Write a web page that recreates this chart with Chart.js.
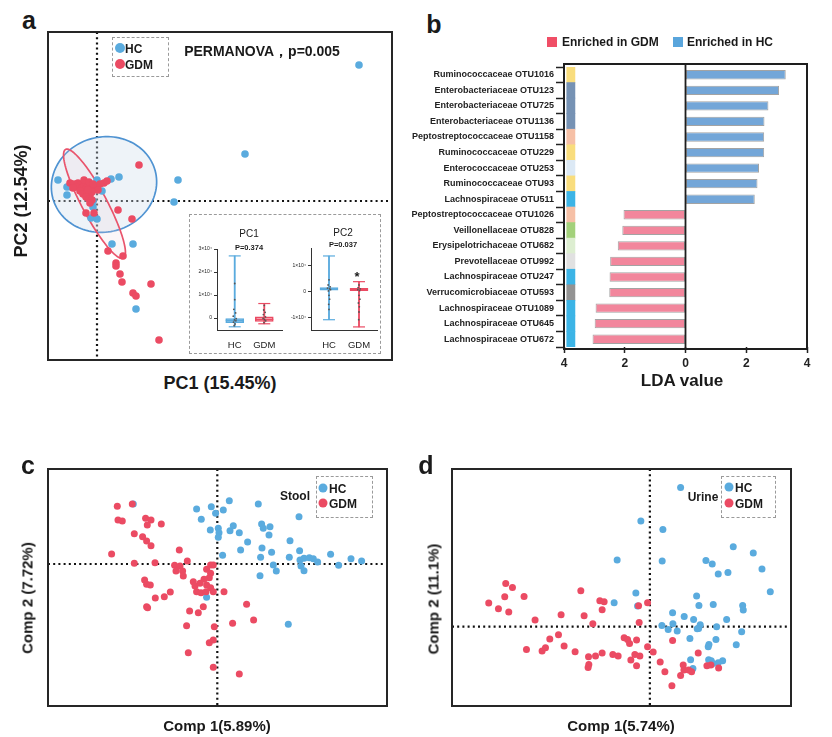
<!DOCTYPE html>
<html lang="en">
<head>
<meta charset="UTF-8">
<title>GDM microbiome figure</title>
<script src="https://cdn.jsdelivr.net/npm/chart.js@4.4.1/dist/chart.umd.min.js"></script>
<style>
    body { margin: 0; background: #fff; font-family: "Liberation Sans", Arial, sans-serif; color: #1a1a1a; }
    #fig { position: relative; width: 832px; height: 737px; overflow: hidden; }
    canvas { position: absolute; }
    .t { position: absolute; white-space: nowrap; line-height: 1; transform: translate(-50%, -50%); }
    .l { position: absolute; white-space: nowrap; line-height: 1; transform: translateY(-50%); }
    .b { font-weight: bold; }
    .rot { transform: translate(-50%, -50%) rotate(-90deg); }
    .box { position: absolute; border: 1px dashed #9a9a9a; box-sizing: border-box; }
    .dot { position: absolute; border-radius: 50%; transform: translate(-50%, -50%); }
    .sq { position: absolute; }
    .letter { font-size: 25px; font-weight: bold; }
</style>
</head>
<body>
<div id="fig">
    <!-- panel a -->
    <div class="t letter" style="left:29px;top:20px">a</div>
    <canvas id="pcoa" width="400" height="372" style="left:0;top:0"></canvas>
    <div class="t b" style="left:262px;top:51px;font-size:14px">PERMANOVA，p=0.005</div>
    <div class="box" style="left:112px;top:37px;width:57px;height:40px"></div>
    <div class="dot" style="left:120px;top:48px;width:10px;height:10px;background:#5aabde"></div>
    <div class="l b" style="left:125px;top:49px;font-size:12px">HC</div>
    <div class="dot" style="left:120px;top:64px;width:10px;height:10px;background:#eb4b63"></div>
    <div class="l b" style="left:125px;top:65px;font-size:12px">GDM</div>
    <div class="t b" style="left:220px;top:383px;font-size:18px">PC1 (15.45%)</div>
    <div class="t b rot" style="left:21px;top:201px;font-size:18px">PC2 (12.54%)</div>
    <div class="box" style="left:189px;top:214px;width:192px;height:140px;background:#fff"></div>
    <canvas id="box1" width="96" height="108" style="left:189px;top:244px"></canvas>
    <canvas id="box2" width="103" height="109" style="left:277px;top:243px"></canvas>
    <div class="t" style="left:249px;top:234px;font-size:10px">PC1</div>
    <div class="t b" style="left:249px;top:248px;font-size:7.5px">P=0.374</div>
    <div class="t" style="left:343px;top:233px;font-size:10px">PC2</div>
    <div class="t b" style="left:343px;top:245px;font-size:7.5px">P=0.037</div>
    <div class="t b" style="left:357px;top:276px;font-size:13px">*</div>

    <!-- panel b -->
    <div class="t letter" style="left:434px;top:24px">b</div>
    <div class="sq" style="left:547px;top:37px;width:10px;height:10px;background:#f04e66"></div>
    <div class="l b" style="left:562px;top:42px;font-size:12px">Enriched in GDM</div>
    <div class="sq" style="left:673px;top:37px;width:10px;height:10px;background:#59a5dc"></div>
    <div class="l b" style="left:687px;top:42px;font-size:12px">Enriched in HC</div>
    <canvas id="lda" width="415" height="330" style="left:405px;top:56px"></canvas>
    <div class="t b" style="left:682px;top:380px;font-size:17px">LDA value</div>

    <!-- panel c -->
    <div class="t letter" style="left:28px;top:465px">c</div>
    <canvas id="stool" width="400" height="250" style="left:0;top:460px"></canvas>
    <div class="t b" style="left:295px;top:496px;font-size:12px">Stool</div>
    <div class="box" style="left:316px;top:476px;width:57px;height:42px"></div>
    <div class="dot" style="left:323px;top:488px;width:9px;height:9px;background:#5aabde"></div>
    <div class="l b" style="left:329px;top:489px;font-size:12px">HC</div>
    <div class="dot" style="left:323px;top:503px;width:9px;height:9px;background:#eb4b63"></div>
    <div class="l b" style="left:329px;top:504px;font-size:12px">GDM</div>
    <div class="t b" style="left:217px;top:725px;font-size:15px">Comp 1(5.89%)</div>
    <div class="t b rot" style="left:27px;top:598px;font-size:15px">Comp 2 (7.72%)</div>

    <!-- panel d -->
    <div class="t letter" style="left:426px;top:465px">d</div>
    <canvas id="urine" width="400" height="250" style="left:420px;top:460px"></canvas>
    <div class="t b" style="left:703px;top:497px;font-size:12px">Urine</div>
    <div class="box" style="left:721px;top:476px;width:55px;height:42px"></div>
    <div class="dot" style="left:729px;top:487px;width:9px;height:9px;background:#5aabde"></div>
    <div class="l b" style="left:735px;top:488px;font-size:12px">HC</div>
    <div class="dot" style="left:729px;top:503px;width:9px;height:9px;background:#eb4b63"></div>
    <div class="l b" style="left:735px;top:504px;font-size:12px">GDM</div>
    <div class="t b" style="left:621px;top:725px;font-size:15px">Comp 1(5.74%)</div>
    <div class="t b rot" style="left:433px;top:599px;font-size:15px">Comp 2 (11.1%)</div>
</div>

<script>
    const FONT = '"Liberation Sans", Arial, sans-serif';
    const HC_COLOR = '#5aabde';
    const GDM_COLOR = '#eb4b63';

    // ---- panel a: PCoA (PC1, PC2) ----
    const pcoaHC = [[26.2, 13.6], [14.8, 4.7], [8.1, 2.1], [7.7, -0.1], [3.9, -10.8], [3.6, -4.3], [1.5, -4.3],
        [-3.9, 2.1], [-3.0, 0.6], [-3.0, 1.4], [2.2, 2.4], [1.4, 2.2], [0.0, 2.1], [0.5, 1.0], [-0.4, 0.0],
        [-0.4, -0.6], [-0.6, -1.7], [0.0, -1.8], [-2.6, 1.4]];
    const pcoaGDM = [[4.2, 3.6], [-1.1, -1.2], [-0.3, -1.2], [2.1, -0.9], [3.5, -1.8], [1.1, -5.0], [2.6, -5.5],
        [1.9, -6.2], [1.9, -6.5], [2.3, -7.3], [2.5, -8.1], [5.4, -8.3], [3.6, -9.2], [3.9, -9.5], [6.2, -13.9],
        [-2.7, 1.8], [-2.3, 1.7], [-1.9, 1.8], [-1.7, 1.6], [-2.1, 1.4], [-1.5, 1.3], [-1.3, 1.5], [-1.1, 1.8],
        [-0.9, 1.5], [-1.2, 1.1], [-1.7, 1.0], [-1.4, 0.7], [-1.0, 0.8], [-0.7, 0.6], [-1.1, 0.4], [-0.8, 0.2],
        [-0.5, 0.1], [-0.7, -0.2], [-0.3, 1.3], [-0.1, 1.5], [0.3, 1.7], [0.7, 1.8], [1.0, 2.0], [0.1, 1.1],
        [-0.5, 0.9], [-0.9, 1.1], [-1.3, 2.1], [-0.8, 1.9], [-0.4, 1.7], [-2.4, 1.3]];
    // confidence ellipses: centre x, centre y, radius x, radius y, rotation (deg)
    const hcEllipse = [0.7, 1.65, 5.3, 4.75, 15];
    const gdmEllipse = [-0.25, -0.28, 6.16, 1.25, -62];

    // inset boxplots: min, q1, median, q3, max
    const pc1HC = [-3800, -2000, -1000, 0, 27000];
    const pc1GDM = [-2500, -1500, -600, 500, 6300];
    const pc2HC = [-11000, 500, 1000, 1500, 13800];
    const pc2GDM = [-13800, 300, 700, 1200, 3800];
    const pc1Ticks = [0, 10000, 20000, 30000];
    const pc2Ticks = [-10000, 0, 10000];
    const groupTicks = [1, 2];
    const groupNames = ['HC', 'GDM'];
    const pc1HCDots = [[1.0, 15000], [1.0, 8000], [0.97, 3800], [1.03, 2200], [0.95, 800], [1.05, -300], [0.99, -800], [1.04, -1200], [0.96, -1800], [1.01, -2600], [0.98, -3300]];
    const pc1GDMDots = [[2.0, 5500], [1.98, 3500], [2.03, 2500], [1.97, 1500], [2.04, 500], [1.96, -200], [2.01, -700], [2.05, -1200], [1.99, -2000]];
    const pc2HCDots = [[1.0, 4500], [0.97, 2500], [1.04, 1800], [0.95, 1300], [1.02, 1000], [1.05, 700], [0.98, 200], [1.0, -1500], [1.02, -3000], [0.99, -5000], [1.0, -7000]];
    const pc2GDMDots = [[2.0, 2500], [1.97, 1500], [2.04, 1000], [1.96, 700], [2.02, 300], [2.0, -1500], [2.03, -3000], [1.98, -4500], [2.01, -6000], [2.0, -8000], [1.99, -11000]];

    // ---- panel b: LEfSe LDA ----
    const otuLabels = ['Ruminococcaceae OTU1016', 'Enterobacteriaceae OTU123', 'Enterobacteriaceae OTU725',
        'Enterobacteriaceae OTU1136', 'Peptostreptococcaceae OTU1158', 'Ruminococcaceae OTU229',
        'Enterococcaceae OTU253', 'Ruminococcaceae OTU93', 'Lachnospiraceae OTU511',
        'Peptostreptococcaceae OTU1026', 'Veillonellaceae OTU828', 'Erysipelotrichaceae OTU682',
        'Prevotellaceae OTU992', 'Lachnospiraceae OTU247', 'Verrucomicrobiaceae OTU593',
        'Lachnospiraceae OTU1089', 'Lachnospiraceae OTU645', 'Lachnospiraceae OTU672'];
    const ldaValues = [3.30, 3.08, 2.73, 2.60, 2.59, 2.59, 2.42, 2.37, 2.28,
        -2.04, -2.08, -2.23, -2.48, -2.50, -2.51, -2.96, -2.99, -3.06];
    const familyColors = ['#f9dd7d', '#7692b4', '#7692b4', '#7692b4', '#f6c0a6', '#f9dd7d', '#dce9f5', '#f9dd7d', '#3cb4e6',
        '#f6c0a6', '#a3d17b', '#ddeed1', '#e1e1e1', '#3cb4e6', '#939393', '#3cb4e6', '#3cb4e6', '#3cb4e6'];
    const STRIP = [-3.91, -3.64];

    // ---- panel c: stool PLS-DA ----
    const stoolHC = [[-8.4, 6.0], [-2.07, 5.5], [-0.6, 5.73], [-0.17, 5.07], [0.6, 5.4], [1.2, 6.33], [4.1, 6.0],
        [-1.6, 4.47], [-0.7, 3.4], [0.1, 3.57], [0.17, 3.13], [0.1, 2.67], [1.27, 3.33], [1.6, 3.83], [2.2, 3.13],
        [3.03, 2.2], [2.33, 1.4], [0.53, 0.87], [4.43, 4.0], [4.6, 3.57], [5.27, 3.73], [5.17, 2.9], [7.27, 2.33],
        [8.17, 4.73], [4.47, 1.6], [5.43, 1.17], [4.33, 0.67], [5.6, -0.1], [5.9, -0.7], [4.27, -1.17], [7.2, 0.67],
        [8.23, 1.33], [8.27, 0.4], [8.67, 0.57], [9.2, 0.63], [9.6, 0.53], [10.03, 0.2], [8.37, -0.2], [8.67, -0.67],
        [11.33, 0.97], [12.13, -0.13], [13.37, 0.53], [14.43, 0.3], [-1.07, -3.33], [7.1, -6.03]];
    const stoolGDM = [[-10.0, 5.77], [-8.5, 6.0], [-9.93, 4.4], [-9.5, 4.3], [-7.17, 4.57], [-6.63, 4.4], [-7.0, 3.9],
        [-5.6, 4.0], [-8.3, 3.03], [-7.47, 2.73], [-7.07, 2.3], [-6.63, 1.83], [-10.57, 1.0], [-8.3, 0.07],
        [-6.23, 0.13], [-3.8, 1.4], [-3.0, 0.3], [-4.27, -0.13], [-3.73, -0.2], [-4.13, -0.7], [-3.47, -0.7],
        [-3.4, -1.2], [-1.07, -0.53], [-0.67, -0.1], [-0.4, -0.1], [-0.67, -0.93], [-0.8, -1.37], [-1.33, -1.53],
        [-2.4, -1.77], [-2.23, -2.2], [-1.73, -1.93], [-1.07, -2.1], [-0.67, -2.37], [-2.07, -2.77], [-1.63, -2.87],
        [-1.13, -2.77], [-0.4, -2.77], [0.67, -2.77], [-7.27, -1.6], [-7.07, -2.03], [-6.7, -2.1], [-6.2, -3.4],
        [-5.3, -3.27], [-4.7, -2.8], [-7.07, -4.27], [-6.97, -4.37], [-2.77, -4.7], [-1.9, -4.87], [-1.4, -4.27],
        [2.93, -4.03], [1.53, -5.93], [3.63, -5.6], [-3.07, -6.17], [-0.3, -6.27], [-0.8, -7.87], [-0.4, -7.6],
        [-2.9, -8.87], [-0.4, -10.33], [2.2, -11.0]];

    // ---- panel d: urine PLS-DA ----
    const urineHC = [[3.07, 13.93], [-0.9, 10.57], [1.3, 9.73], [-3.27, 6.67], [1.23, 6.57], [5.6, 6.63], [6.23, 6.27],
        [6.83, 5.27], [7.8, 5.43], [8.33, 8.0], [10.33, 7.37], [11.2, 5.77], [12.03, 3.5], [-1.4, 3.37], [-3.57, 2.4],
        [-1.23, 2.07], [4.67, 3.07], [4.9, 2.13], [6.33, 2.23], [9.27, 2.13], [9.33, 1.67], [2.27, 1.4], [3.43, 1.03],
        [4.37, 0.73], [5.03, 0.2], [4.87, -0.17], [4.73, -0.2], [7.67, 0.73], [6.67, 0.0], [9.17, -0.5], [1.2, 0.13],
        [2.3, 0.3], [1.83, -0.27], [2.73, -0.43], [4.0, -1.17], [5.9, -1.77], [5.83, -2.0], [6.6, -1.27], [8.63, -1.8],
        [4.07, -3.3], [5.87, -3.3], [6.13, -3.4], [6.83, -3.6], [7.27, -3.4], [4.3, -4.17], [6.3, -3.67]];
    const urineGDM = [[-14.4, 4.33], [-13.73, 3.93], [-16.1, 2.37], [-15.13, 1.8], [-14.5, 3.0], [-14.1, 1.47],
        [-12.57, 3.03], [-11.47, 0.67], [-8.87, 1.2], [-6.9, 3.6], [-5.0, 2.6], [-4.57, 2.5], [-4.77, 1.7],
        [-6.57, 1.1], [-5.7, 0.3], [-1.13, 2.1], [-0.23, 2.4], [-1.07, 0.43], [-9.13, -0.8], [-10.0, -1.23],
        [-12.33, -2.27], [-10.77, -2.43], [-10.43, -2.1], [-8.57, -1.93], [-7.47, -2.5], [-6.13, -3.0],
        [-6.1, -3.77], [-6.17, -4.07], [-5.43, -2.93], [-4.77, -2.63], [-3.7, -2.77], [-3.17, -2.93],
        [-2.57, -1.1], [-2.23, -1.27], [-2.03, -1.67], [-1.33, -1.33], [-1.9, -3.33], [-1.5, -2.77], [-1.0, -2.93],
        [-1.33, -3.9], [-0.23, -2.0], [0.33, -2.53], [1.03, -3.53], [1.5, -4.5], [2.27, -1.37], [3.07, -4.87],
        [2.2, -5.9], [3.33, -3.83], [3.4, -4.33], [3.87, -4.33], [4.17, -4.5], [4.83, -2.63], [5.7, -3.9],
        [6.1, -3.83], [6.87, -4.13]];

    // box around the plot area, optional zero line (panel b)
    const framePlugin = {
        id: 'frame',
        afterDatasetsDraw(chart, args, o) {
            if (!o.show) return;
            const { ctx, chartArea: a } = chart;
            const t = o.top || 0, b = o.bottom || 0;
            ctx.save();
            ctx.strokeStyle = o.color || '#222';
            ctx.lineWidth = o.width || 2;
            ctx.strokeRect(a.left, a.top - t, a.right - a.left, a.bottom - a.top + t + b);
            if (o.zeroX) {
                const px = chart.scales.x.getPixelForValue(0);
                ctx.beginPath();
                ctx.moveTo(px, a.top - t);
                ctx.lineTo(px, a.bottom + b);
                ctx.lineWidth = 1.8;
                ctx.stroke();
            }
            ctx.restore();
        }
    };

    // dotted lines through the origin
    const crossPlugin = {
        id: 'cross',
        beforeDatasetsDraw(chart, args, o) {
            if (!o.show) return;
            const { ctx, chartArea: a, scales: { x, y } } = chart;
            const px = x.getPixelForValue(0), py = y.getPixelForValue(0);
            ctx.save();
            ctx.strokeStyle = '#111';
            ctx.lineWidth = 2.2;
            ctx.setLineDash([2, 3.2]);
            ctx.beginPath();
            ctx.moveTo(px, a.top); ctx.lineTo(px, a.bottom);
            ctx.moveTo(a.left, py); ctx.lineTo(a.right, py);
            ctx.stroke();
            ctx.restore();
        }
    };

    const ellipsePlugin = {
        id: 'ellipses',
        beforeDatasetsDraw(chart, args, o) {
            const { ctx, scales: { x, y } } = chart;
            (o.items || []).forEach(e => {
                const [cx, cy, rx, ry, deg] = e.p;
                const th = deg * Math.PI / 180;
                ctx.save();
                ctx.beginPath();
                for (let i = 0; i <= 120; i++) {
                    const t = i / 120 * 2 * Math.PI;
                    const dx = rx * Math.cos(t), dy = ry * Math.sin(t);
                    const px = x.getPixelForValue(cx + dx * Math.cos(th) - dy * Math.sin(th));
                    const py = y.getPixelForValue(cy + dx * Math.sin(th) + dy * Math.cos(th));
                    if (i) ctx.lineTo(px, py); else ctx.moveTo(px, py);
                }
                ctx.closePath();
                ctx.fillStyle = e.fill;
                ctx.fill();
                ctx.strokeStyle = e.stroke;
                ctx.lineWidth = 1.7;
                ctx.stroke();
                ctx.restore();
            });
        }
    };

    const toXY = arr => arr.map(p => ({ x: p[0], y: p[1] }));

    function scatterPanel(id, hc, gdm, xr, yr, pad, radius, ellipses) {
        return new Chart(document.getElementById(id), {
            type: 'scatter',
            data: {
                datasets: [
                    { data: toXY(hc), backgroundColor: HC_COLOR, borderWidth: 0, pointRadius: radius, order: 2 },
                    { data: toXY(gdm), backgroundColor: GDM_COLOR, borderWidth: 0, pointRadius: radius, order: 1 }
                ]
            },
            options: {
                responsive: false,
                animation: false,
                layout: { padding: pad, autoPadding: false },
                plugins: {
                    legend: { display: false },
                    tooltip: { enabled: false },
                    frame: { show: true, width: 2, color: '#262626' },
                    cross: { show: true },
                    ellipses: { items: ellipses || [] }
                },
                scales: {
                    x: { type: 'linear', min: xr[0], max: xr[1], display: false },
                    y: { type: 'linear', min: yr[0], max: yr[1], display: false }
                }
            },
            plugins: [crossPlugin, ellipsePlugin, framePlugin]
        });
    }

    scatterPanel('pcoa', pcoaHC, pcoaGDM, [-4.9, 29.5], [-15.9, 16.9],
        { left: 48, top: 32, right: 8, bottom: 12 }, 3.8,
        [{ p: hcEllipse, fill: 'rgba(205,222,235,0.35)', stroke: '#4f93d2' },
         { p: gdmEllipse, fill: 'rgba(240,205,215,0.18)', stroke: '#e9546c' }]);

    scatterPanel('stool', stoolHC, stoolGDM, [-16.93, 16.97], [-14.2, 9.5],
        { left: 48, top: 9, right: 13, bottom: 4 }, 3.5);

    scatterPanel('urine', urineHC, urineGDM, [-19.77, 14.1], [-7.93, 15.77],
        { left: 32, top: 9, right: 29, bottom: 4 }, 3.5);

    // inset boxplots
    function boxPanel(id, hc, gdm, hcDots, gdmDots, yMin, yMax, yTicks, yw) {
        const pair = [hc, gdm];
        const line = [HC_COLOR, GDM_COLOR];
        const fills = ['rgba(90,171,222,0.25)', 'rgba(235,75,99,0.18)'];
        const caps = [], meds = [];
        pair.forEach((s, i) => {
            caps.push({ x: groupTicks[i], y: s[0] }, { x: groupTicks[i], y: s[4] });
            meds.push({ x: groupTicks[i], y: s[2] });
        });
        return new Chart(document.getElementById(id), {
            type: 'bar',
            data: {
                datasets: [
                    { data: pair.map((s, i) => ({ x: groupTicks[i], y: [s[0], s[4]] })), backgroundColor: line,
                      barThickness: 1.2, grouped: false, order: 4 },
                    { data: pair.map((s, i) => ({ x: groupTicks[i], y: [s[1], s[3]] })), backgroundColor: fills,
                      borderColor: line, borderWidth: 1, borderSkipped: false, barThickness: 18, grouped: false, order: 3 },
                    { type: 'scatter', data: caps, pointStyle: 'line', pointRadius: 6, borderWidth: 1.2,
                      borderColor: caps.map(c => line[c.x - 1]), order: 2 },
                    { type: 'scatter', data: meds, pointStyle: 'line', pointRadius: 9, borderWidth: 1.4,
                      borderColor: meds.map(c => line[c.x - 1]), order: 2 },
                    { type: 'scatter', data: toXY(hcDots.concat(gdmDots)), pointRadius: 0.9,
                      backgroundColor: '#555', borderWidth: 0, order: 1 }
                ]
            },
            options: {
                responsive: false,
                animation: false,
                layout: { padding: { left: 0, top: 1, right: 3, bottom: 0 }, autoPadding: false },
                plugins: { legend: { display: false }, tooltip: { enabled: false } },
                scales: {
                    x: {
                        type: 'linear', min: 0.4, max: 2.6, offset: false,
                        ticks: { autoSkip: false, color: '#222', font: { size: 9.5, family: FONT }, padding: 2,
                                 callback: v => groupNames[groupTicks.indexOf(v)] || '' },
                        afterBuildTicks: s => { s.ticks = groupTicks.map(v => ({ value: v })); },
                        grid: { display: false, offset: false },
                        border: { display: true, color: '#333', width: 1 },
                        afterFit: s => { s.height = 22; }
                    },
                    y: {
                        type: 'linear', min: yMin, max: yMax,
                        ticks: { color: '#222', font: { size: 5, family: FONT }, padding: 2,
                                 callback: v => v === 0 ? '0' : (v / 10000) + '×10⁴' },
                        afterBuildTicks: s => { s.ticks = yTicks.map(v => ({ value: v })); },
                        grid: { drawOnChartArea: false, tickLength: 3, tickColor: '#333' },
                        border: { display: true, color: '#333', width: 1 },
                        afterFit: s => { s.width = yw; }
                    }
                }
            }
        });
    }
    boxPanel('box1', pc1HC, pc1GDM, pc1HCDots, pc1GDMDots, -5200, 30000, pc1Ticks, 28);
    boxPanel('box2', pc2HC, pc2GDM, pc2HCDots, pc2GDMDots, -15000, 16900, pc2Ticks, 34);

    // panel b
    new Chart(document.getElementById('lda'), {
        type: 'bar',
        data: {
            labels: otuLabels,
            datasets: [
                { data: ldaValues, backgroundColor: ldaValues.map(v => v > 0 ? '#73a6d8' : '#f2869c'),
                  borderColor: '#a3a3a3', borderWidth: 1, borderSkipped: false,
                  barPercentage: 0.6, categoryPercentage: 1, grouped: false },
                { data: otuLabels.map(() => STRIP), backgroundColor: familyColors, borderWidth: 0,
                  barPercentage: 1, categoryPercentage: 1, grouped: false }
            ]
        },
        options: {
            indexAxis: 'y',
            responsive: false,
            animation: false,
            layout: { padding: { left: 0, top: 11, right: 13, bottom: 15 }, autoPadding: false },
            plugins: {
                legend: { display: false },
                tooltip: { enabled: false },
                frame: { show: true, top: 3, bottom: 2, zeroX: true, width: 2, color: '#1e1e1e' }
            },
            scales: {
                x: {
                    min: -4, max: 4,
                    ticks: { stepSize: 2, callback: v => Math.abs(v), color: '#222',
                             font: { size: 12, weight: 'bold', family: FONT }, padding: 3 },
                    grid: { drawOnChartArea: false, tickLength: 6, tickColor: '#222', tickWidth: 1.5 },
                    border: { display: false },
                    afterFit: s => { s.height = 24; }
                },
                y: {
                    ticks: { autoSkip: false, color: '#222', font: { size: 9, weight: 'bold', family: FONT }, padding: 2 },
                    grid: { drawOnChartArea: false, tickLength: 8, tickColor: '#222', tickWidth: 1.5 },
                    border: { display: false },
                    afterFit: s => { s.width = 159; }
                }
            }
        },
        plugins: [framePlugin]
    });
</script>
</body>
</html>
